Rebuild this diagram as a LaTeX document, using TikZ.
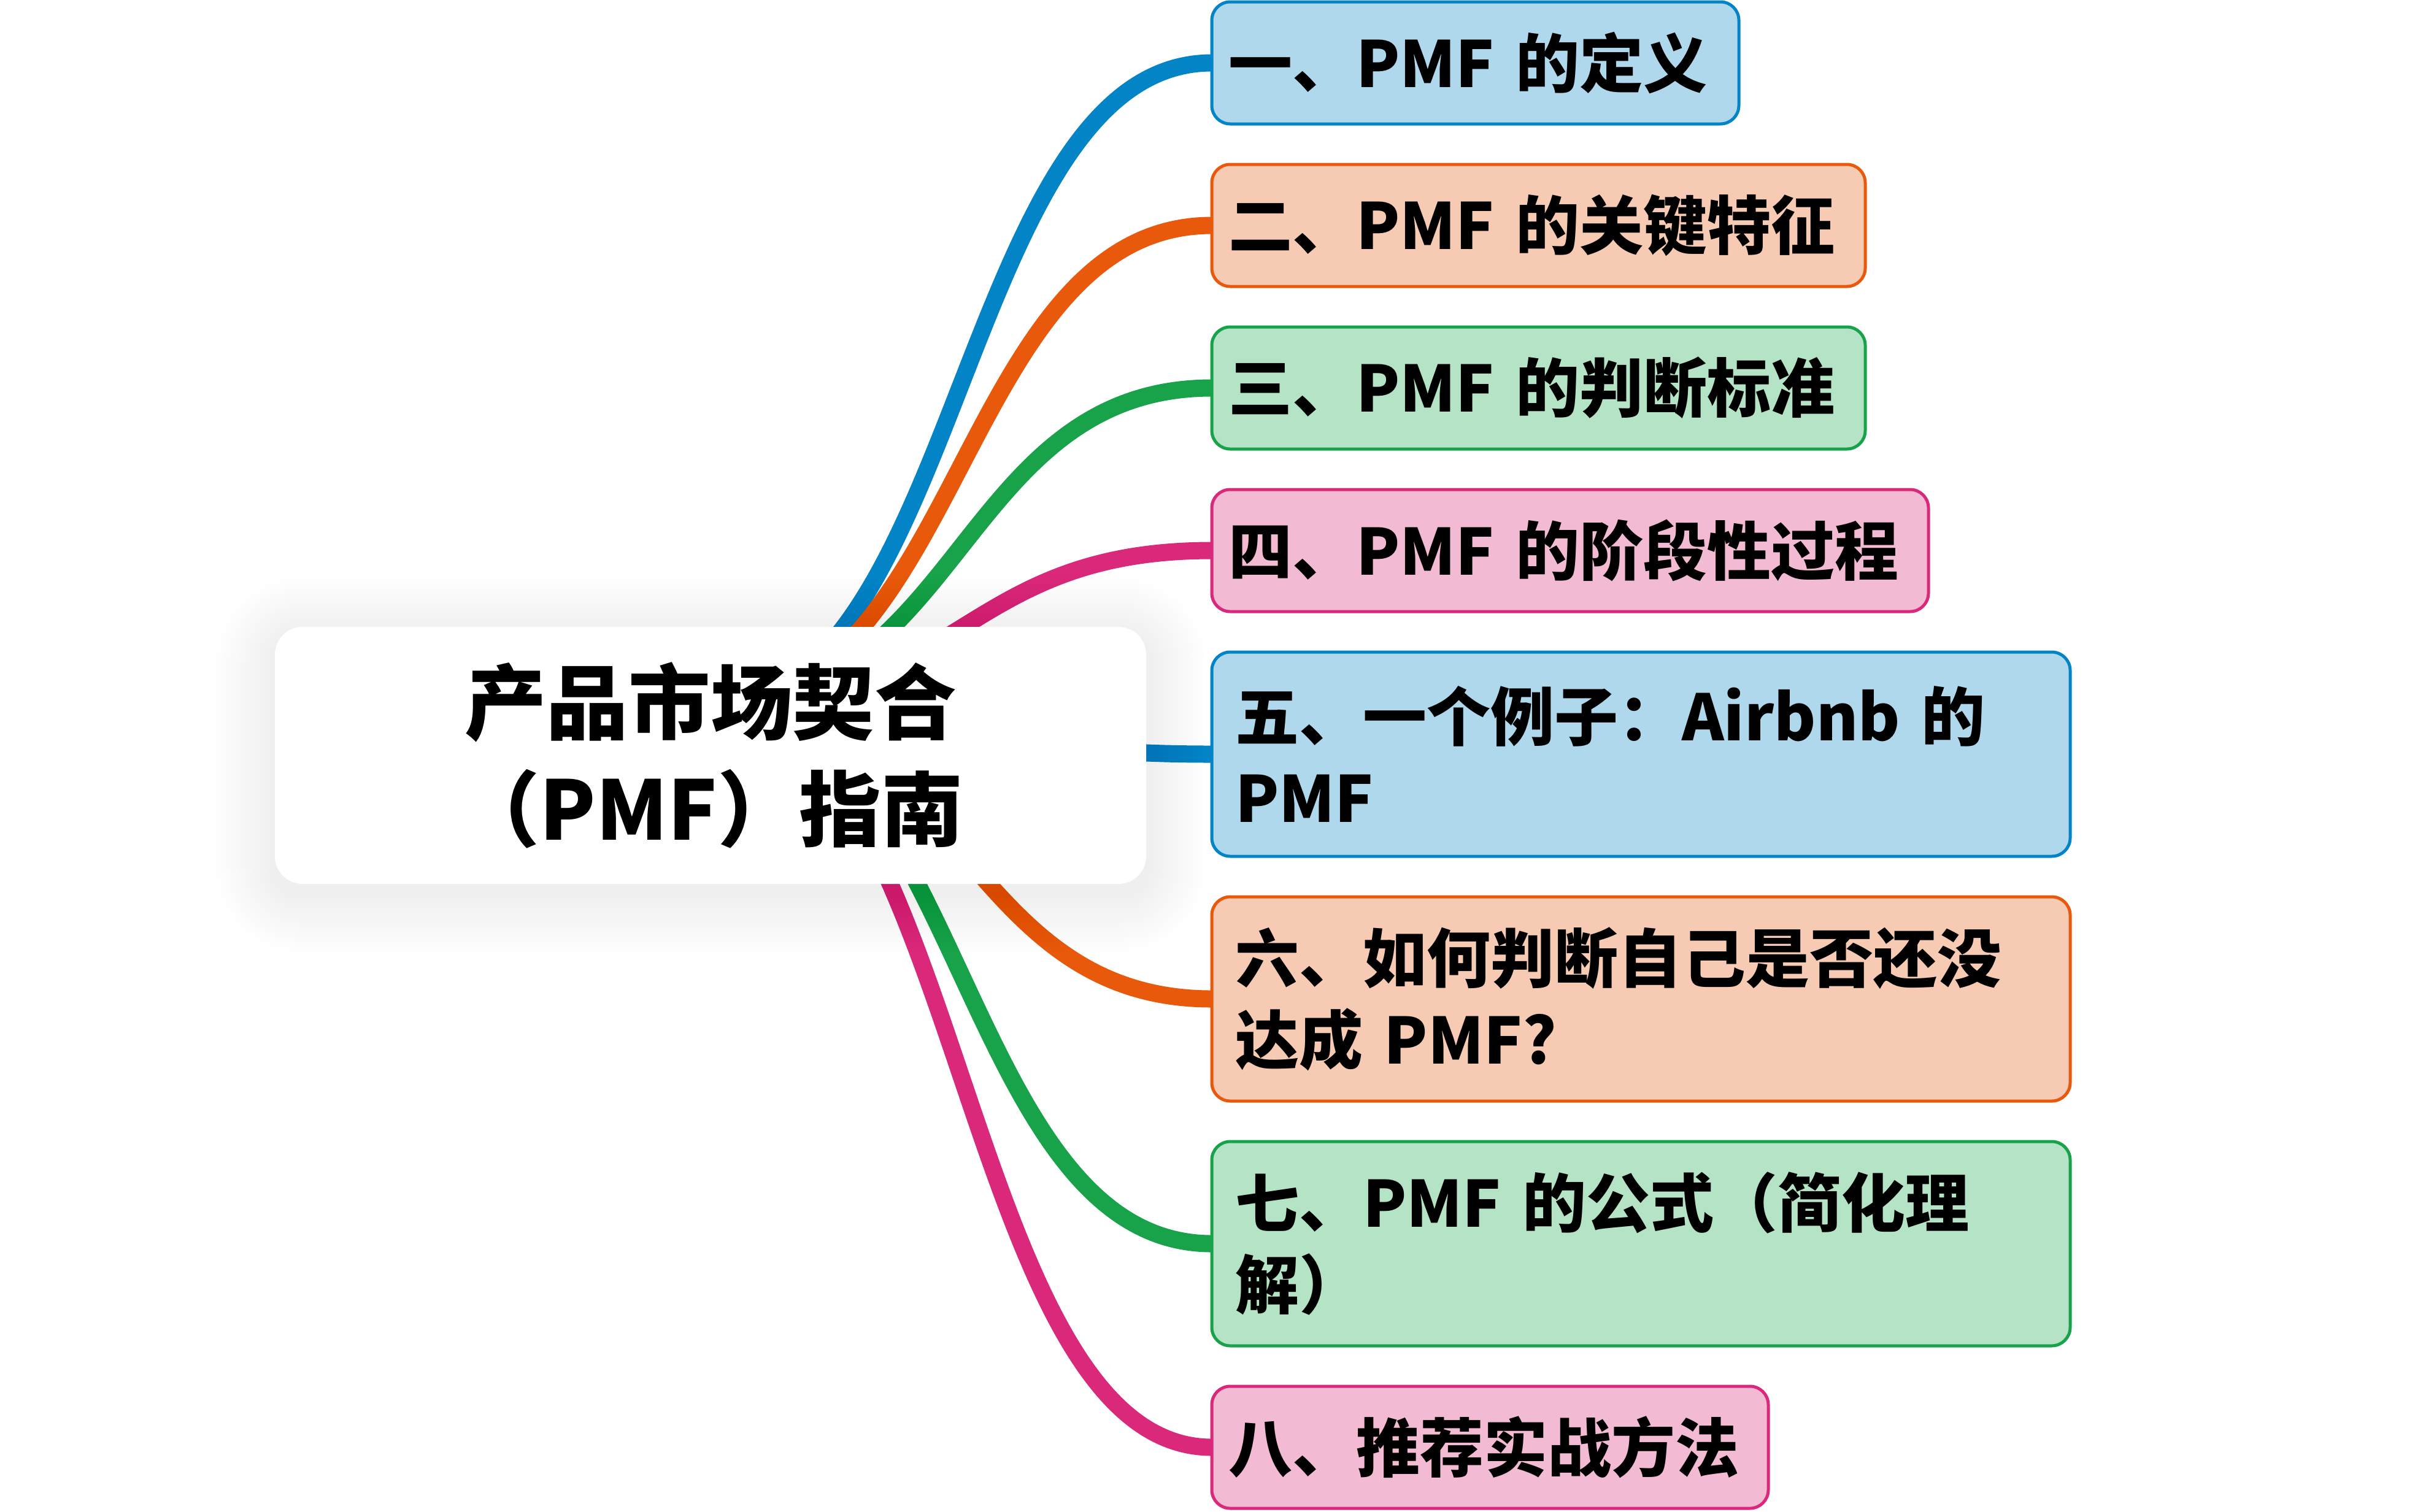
\documentclass[tikz,border=0pt]{standalone}
\usepackage{fontspec}
\setmainfont{Noto Sans CJK SC}
\usepackage{xcolor}
\definecolor{LineBlue}{RGB}{3,132,198}
\definecolor{LineOrange}{RGB}{232,89,12}
\definecolor{LineGreen}{RGB}{24,163,74}
\definecolor{LinePink}{RGB}{218,40,122}
\definecolor{FillBlue}{RGB}{176,216,236}
\definecolor{FillOrange}{RGB}{247,203,179}
\definecolor{FillGreen}{RGB}{181,227,198}
\definecolor{FillPink}{RGB}{243,186,211}
\usepackage{tikz}
\usetikzlibrary{
  positioning, calc, backgrounds
}
\pgfdeclarelayer{shadow}
\pgfsetlayers{background,shadow,main}
\tikzset{
  % Central topic
  roottopic/.style={
    rectangle, rounded corners=0.45cm,
    fill=white, draw=none,
    minimum width=14.2cm, minimum height=4.19cm,
    align=center, inner sep=0pt,
    font=\fontsize{38pt}{49.5pt}\selectfont\bfseries
  },
  % Soft shadow ring
  softshade/.style={fill=black, opacity=0.005},
  % Main topic box
  subtopic/.style={
    rectangle, rounded corners=0.3cm,
    line width=0.05cm, outer sep=0pt,
    align=left, inner ysep=0pt, inner xsep=0.27cm,
    minimum height=1.99cm,
    font=\fontsize{29.6pt}{37.8pt}\selectfont\bfseries
  },
  % Colored box variants
  subtopic blue/.style={subtopic, fill=FillBlue, draw=LineBlue},
  subtopic orange/.style={subtopic, fill=FillOrange, draw=LineOrange},
  subtopic green/.style={subtopic, fill=FillGreen, draw=LineGreen},
  subtopic pink/.style={subtopic, fill=FillPink, draw=LinePink},
  % Two-line box
  twoline/.style={inner xsep=0.38cm, minimum height=3.33cm, text width=13.23cm},
  % Branches
  branch/.style={line width=0.28cm},
  branch blue/.style={branch, draw=LineBlue},
  branch orange/.style={branch, draw=LineOrange},
  branch green/.style={branch, draw=LineGreen},
  branch pink/.style={branch, draw=LinePink},
}

\begin{document}
\begin{tikzpicture}

  \useasboundingbox (0,0) rectangle (39.36,-24.64);

  %% Central topic
  \node[roottopic] (root) at (11.58,-12.315) {产品市场契合\\（PMF）指南};

  %% Main topics
  \node[subtopic blue, text width=8.05cm, anchor=north west]
    (def) at (19.75,-0.03) {一、PMF 的定义};
  \node[subtopic orange, text width=10.11cm,
    below=0.66cm of def.south west, anchor=north west]
    (feat) {二、PMF 的关键特征};
  \node[subtopic green, text width=10.11cm,
    below=0.66cm of feat.south west, anchor=north west]
    (crit) {三、PMF 的判断标准};
  \node[subtopic pink, text width=11.14cm,
    below=0.66cm of crit.south west, anchor=north west]
    (stage) {四、PMF 的阶段性过程};
  \node[subtopic blue, twoline,
    below=0.66cm of stage.south west, anchor=north west]
    (case) {五、一个例子：Airbnb 的\\PMF};
  \node[subtopic orange, twoline,
    below=0.66cm of case.south west, anchor=north west]
    (check) {六、如何判断自己是否还没\\达成 PMF?};
  \node[subtopic green, twoline,
    below=0.66cm of check.south west, anchor=north west]
    (formula) {七、PMF 的公式（简化理\\解）};
  \node[subtopic pink, text width=8.53cm,
    below=0.66cm of formula.south west, anchor=north west]
    (method) {八、推荐实战方法};

  %% Shadow of the central topic
  \begin{pgfonlayer}{shadow}
    \foreach \r in {0.06,0.12,...,0.97}
      \fill[softshade, rounded corners=0.45cm+\r cm]
        ($(root.south west)+(-\r,-\r-0.15)$) rectangle ($(root.north east)+(\r,\r-0.15)$);
  \end{pgfonlayer}

  %% Branches
  \coordinate (hub) at (11.58,-11.50);
  \coordinate (bend) at (15.665,-11.50);
  \begin{pgfonlayer}{background}
    \fill[white] (0,0) rectangle (39.36,-24.64);
    \draw[branch blue] (hub) .. controls (bend) and (bend |- def.west) .. (def.west);
    \draw[branch orange] (hub) .. controls (bend) and (bend |- feat.west) .. (feat.west);
    \draw[branch green] (hub) .. controls (bend) and (bend |- crit.west) .. (crit.west);
    \draw[branch pink] (hub) .. controls (bend) and (bend |- stage.west) .. (stage.west);
    \draw[branch blue] (hub) .. controls (bend) and (bend |- case.west) .. (case.west);
    \draw[branch orange] (hub) .. controls (bend) and (bend |- check.west) .. (check.west);
    \draw[branch green] (hub) .. controls (bend) and (bend |- formula.west) .. (formula.west);
    \draw[branch pink] (hub) .. controls (bend) and (bend |- method.west) .. (method.west);
  \end{pgfonlayer}

\end{tikzpicture}
\end{document}
